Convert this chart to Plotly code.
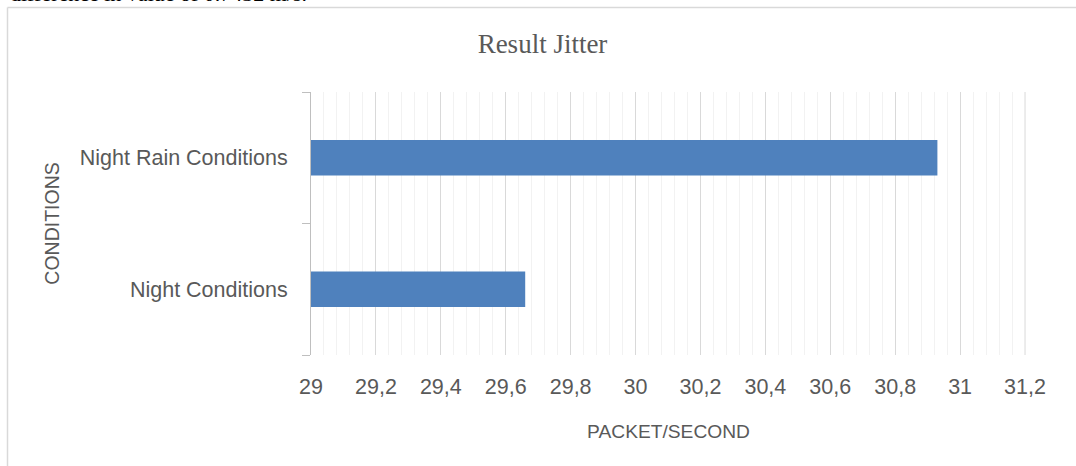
import plotly.graph_objects as go

# Jitter per test condition (packet/second)
conditions = ["Night Conditions", "Night Rain Conditions"]
jitter = [29.66, 30.93]

x_range = [29, 31.2]
major_step = 0.2
minor_step = 0.04

title_text = "Result Jitter"
x_title = "PACKET/SECOND"
y_title = "CONDITIONS"
caption_text = "difference in value of 0.7432 m/s."

text_grey = "#595959"
bar_blue = "#4F81BD"
grid_major = "#D9D9D9"
grid_minor = "#F2F2F2"
sans = "Liberation Sans"
serif = "Liberation Serif"

W, H = 1076, 466
L, R, T, B = 311, 50, 92, 111
pw, ph = W - L - R, H - T - B


def px_to_paper_x(px):
    return (px - L) / pw


def px_to_paper_y(py):
    return (H - B - py) / ph


fig = go.Figure(
    go.Bar(
        y=conditions,
        x=jitter,
        orientation="h",
        width=0.27,
        marker=dict(color=bar_blue, line=dict(width=0)),
        hoverinfo="x+y",
    )
)

fig.update_layout(
    width=W,
    height=H,
    margin=dict(l=L, r=R, t=T, b=B, pad=0, autoexpand=False),
    paper_bgcolor="white",
    plot_bgcolor="white",
    separators=",.",
    showlegend=False,
    font=dict(family=sans, color=text_grey, size=21.5),
    title=dict(
        text=title_text,
        font=dict(family=serif, size=27, color=text_grey),
        x=px_to_paper_x(542.5),
        xref="paper",
        xanchor="center",
        y=1 - 44 / H,
        yref="container",
        yanchor="middle",
    ),
)

# a hair of extra room on the right so the closing gridline stays inside
edge_pad = 0.003

fig.update_xaxes(
    range=[x_range[0], x_range[1] + edge_pad],
    dtick=major_step,
    tick0=x_range[0],
    automargin=False,
    showgrid=True,
    gridcolor=grid_major,
    gridwidth=1,
    minor=dict(dtick=minor_step, tick0=x_range[0], showgrid=True,
               gridcolor=grid_minor, gridwidth=1),
    showline=False,
    zeroline=False,
    ticks="",
    ticklabelstandoff=16,
    tickfont=dict(family=sans, size=21.5, color=text_grey),
    title=dict(text=x_title, font=dict(family=sans, size=19.2, color=text_grey),
               standoff=27),
    fixedrange=True,
)

# closing major gridline at the right end of the value axis
fig.add_shape(type="line", xref="x", yref="paper",
              x0=x_range[1], x1=x_range[1], y0=0, y1=1,
              line=dict(color=grid_major, width=1), layer="below")

fig.update_yaxes(
    type="category",
    categoryorder="array",
    categoryarray=conditions,
    automargin=False,
    showgrid=False,
    showline=True,
    linecolor="#BFBFBF",
    linewidth=1,
    ticks="outside",
    tickson="boundaries",
    ticklen=8,
    tickcolor="#BFBFBF",
    ticklabelstandoff=18,
    tickfont=dict(family=sans, size=21.5, color=text_grey),
    title=dict(text=y_title, font=dict(family=sans, size=19.5, color=text_grey),
               standoff=14),
    fixedrange=True,
)

# Chart frame (top and left edges of the chart area box)
frame_color = "#D9D9D9"
fig.add_shape(type="line", xref="paper", yref="paper",
              x0=px_to_paper_x(7.5), x1=px_to_paper_x(W + 10),
              y0=px_to_paper_y(7.5), y1=px_to_paper_y(7.5),
              line=dict(color=frame_color, width=1.5))
fig.add_shape(type="line", xref="paper", yref="paper",
              x0=px_to_paper_x(7.5), x1=px_to_paper_x(7.5),
              y0=px_to_paper_y(7.5), y1=px_to_paper_y(H + 10),
              line=dict(color=frame_color, width=1.5))

# Preceding sentence of the surrounding text
fig.add_annotation(
    text=caption_text, xref="paper", yref="paper",
    x=px_to_paper_x(8), y=px_to_paper_y(-7),
    xanchor="left", yanchor="middle", showarrow=False,
    font=dict(family=serif, size=22, color="black"),
)

fig.write_html("out.html")
